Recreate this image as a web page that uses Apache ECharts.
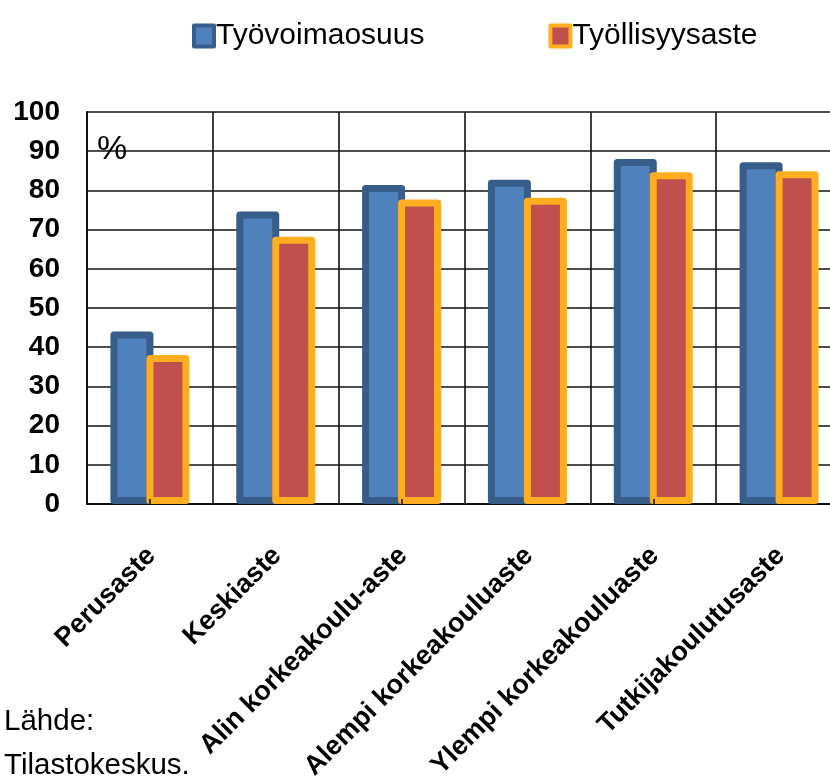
<!DOCTYPE html>
<html>
<head>
<meta charset="utf-8">
<script src="https://cdn.jsdelivr.net/npm/echarts@6/dist/echarts.min.js"></script>
<style>
  html, body { margin: 0; padding: 0; background: #fff; }
  #chart { width: 830px; height: 777px; }
</style>
</head>
<body>
<div id="chart"></div>
<script>
// Koulutusasteet
const categories = [
  'Perusaste',
  'Keskiaste',
  'Alin korkeakoulu-aste',
  'Alempi korkeakouluaste',
  'Ylempi korkeakouluaste',
  'Tutkijakoulutusaste'
];
// Työvoimaosuus, %
const tyovoimaosuus = [44.0, 74.6, 81.4, 82.7, 88.0, 87.2];
// Työllisyysaste, %
const tyollisyysaste = [38.0, 68.2, 77.7, 78.1, 84.6, 84.9];
const seriesNames = ['Työvoimaosuus', 'Työllisyysaste'];
const yTicks = { min: 0, max: 100, interval: 10 };

const FONT = '"Liberation Sans", Arial, sans-serif';
const chart = echarts.init(document.getElementById('chart'), null, { renderer: 'canvas' });

chart.setOption({
  animation: false,
  backgroundColor: '#ffffff',
  textStyle: { fontFamily: FONT },
  legend: {
    left: 187,
    top: 16,
    itemWidth: 20,
    itemHeight: 21,
    itemGap: 124,
    icon: 'rect',
    itemStyle: { borderWidth: 4 },
    textStyle: { fontFamily: FONT, fontSize: 30, color: '#000', padding: [0, 0, 0, -3] },
    data: seriesNames
  },
  grid: {
    left: 87, right: -12, top: 112, bottom: 273,
    containLabel: false,
    outerBoundsMode: 'none'
  },
  xAxis: [
    {
      type: 'category',
      data: categories,
      position: 'bottom',
      axisLine: { show: true, lineStyle: { color: '#111', width: 2 } },
      axisTick: { show: false },
      splitLine: { show: true, lineStyle: { color: '#111', width: 1.6 } },
      axisLabel: {
        rotate: 45,
        margin: 49,
        padding: [0, -2, 0, 0],
        interval: 0,
        fontFamily: FONT,
        fontSize: 27,
        fontWeight: 'bold',
        color: '#000'
      }
    },
    {
      type: 'category',
      data: categories,
      position: 'bottom',
      z: 5,
      axisLine: { show: false },
      axisTick: { show: true, inside: true, alignWithLabel: true, length: 5, lineStyle: { color: '#111', width: 1.5 } },
      axisLabel: { show: false },
      splitLine: { show: false }
    }
  ],
  yAxis: {
    type: 'value',
    min: yTicks.min,
    max: yTicks.max,
    interval: yTicks.interval,
    axisLine: { show: true, lineStyle: { color: '#111', width: 2 } },
    axisTick: { show: false },
    splitLine: { show: true, lineStyle: { color: '#111', width: 1.6 } },
    axisLabel: {
      margin: 27,
      fontFamily: FONT,
      fontSize: 28,
      fontWeight: 'bold',
      color: '#000'
    }
  },
  series: [
    {
      name: seriesNames[0],
      type: 'bar',
      data: tyovoimaosuus,
      barWidth: 43,
      barGap: '-16.3%',
      itemStyle: {
        color: '#4F81BD',
        borderColor: '#385D8A',
        borderWidth: 7,
        borderJoin: 'round'
      }
    },
    {
      name: seriesNames[1],
      type: 'bar',
      data: tyollisyysaste,
      barWidth: 43,
      barGap: '-16.3%',
      itemStyle: {
        color: '#C0504D',
        borderColor: '#FFAE22',
        borderWidth: 7,
        borderJoin: 'round'
      }
    }
  ],
  graphic: [
    {
      type: 'text', left: 97, top: 133, z: 10,
      style: { text: '%', font: '34px ' + FONT, fill: '#000' }
    },
    {
      type: 'text', left: 4, top: 707, z: 10,
      style: { text: 'Lähde:', font: '29.5px ' + FONT, fill: '#000' }
    },
    {
      type: 'text', left: 4, top: 751, z: 10,
      style: { text: 'Tilastokeskus.', font: '29.5px ' + FONT, fill: '#000' }
    }
  ]
});
</script>
</body>
</html>
